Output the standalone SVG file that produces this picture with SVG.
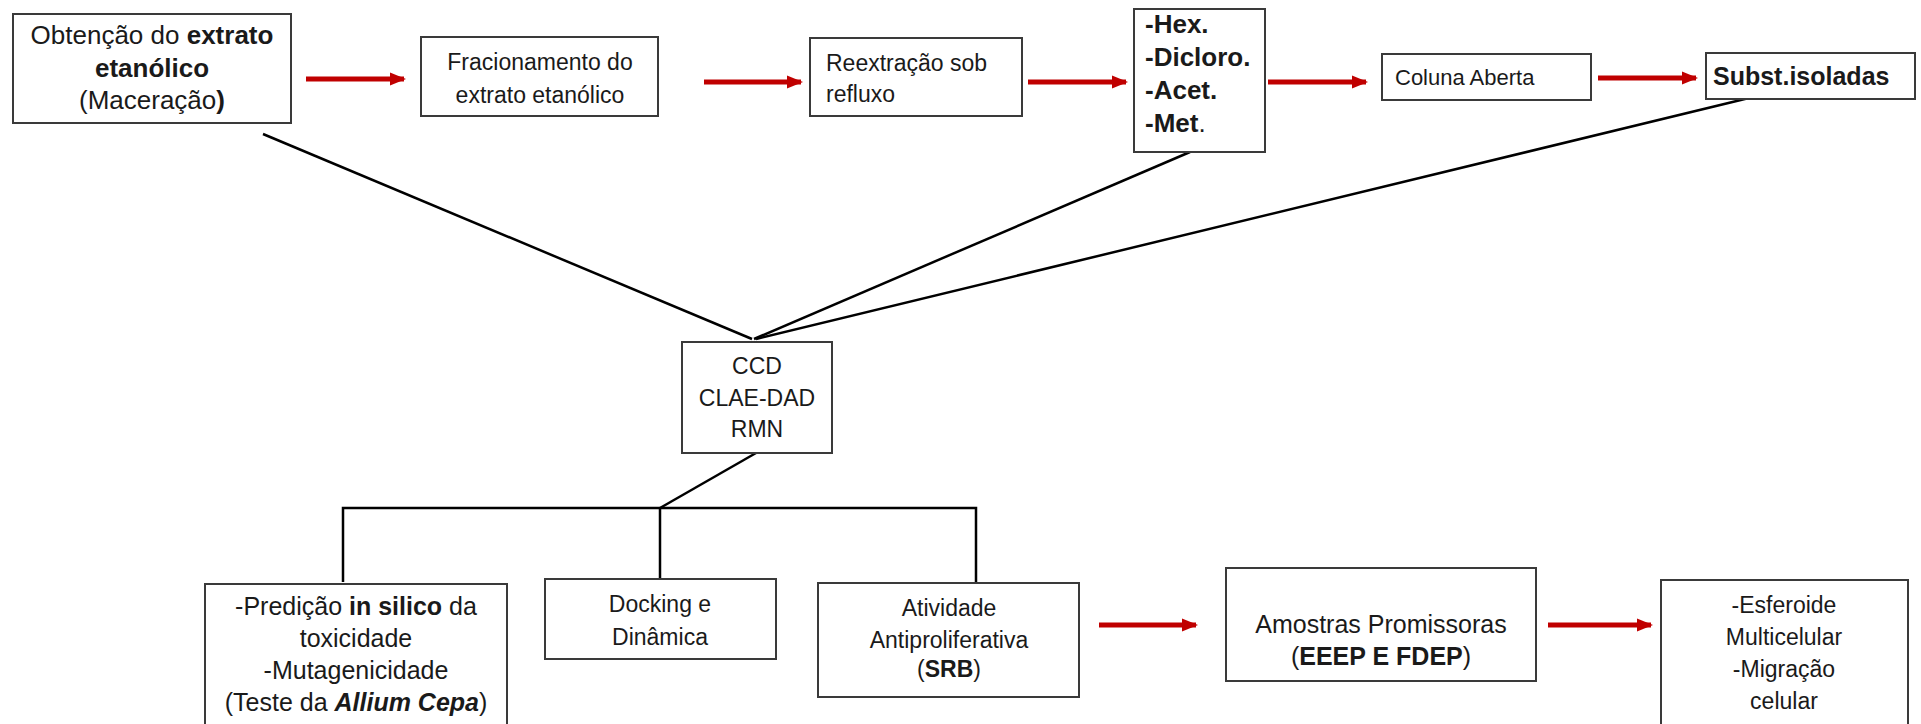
<svg xmlns="http://www.w3.org/2000/svg" width="1921" height="724" viewBox="0 0 1921 724">
<style>
.box{fill:#fff;stroke:#3a3a3a;stroke-width:2}
.t{font-family:"Liberation Sans",Arial,sans-serif;font-size:23px;fill:#1a1a1a}
.s22{font-size:22px}
.s25{font-size:25px}
.s26{font-size:26px}
.c{text-anchor:middle}
.b{font-weight:bold}
.red{stroke:#c00000;stroke-width:5;fill:none}
.blk{stroke:#000;stroke-width:2.5;fill:none}
</style>
<defs>
<marker id="ah" markerUnits="userSpaceOnUse" markerWidth="16" markerHeight="16" refX="14" refY="8" orient="auto">
<path d="M0,1.5 L16,8 L0,14.5 Z" fill="#c00000"/>
</marker>
</defs>
<g id="connectors">
<line class="red" x1="306" y1="79" x2="404" y2="79" marker-end="url(#ah)"/>
<line class="red" x1="704" y1="82" x2="801" y2="82" marker-end="url(#ah)"/>
<line class="red" x1="1028" y1="82" x2="1126" y2="82" marker-end="url(#ah)"/>
<line class="red" x1="1268" y1="82" x2="1366" y2="82" marker-end="url(#ah)"/>
<line class="red" x1="1598" y1="78" x2="1696" y2="78" marker-end="url(#ah)"/>
<line class="red" x1="1099" y1="625" x2="1196" y2="625" marker-end="url(#ah)"/>
<line class="red" x1="1548" y1="625" x2="1651" y2="625" marker-end="url(#ah)"/>
<line class="blk" x1="263" y1="134" x2="752" y2="339"/>
<line class="blk" x1="1190" y1="152" x2="754" y2="339"/>
<line class="blk" x1="1749" y1="98" x2="756" y2="339"/>
<line class="blk" x1="756" y1="453" x2="660" y2="508"/>
<polyline class="blk" points="343,582 343,508 976,508 976,582"/>
<line class="blk" x1="660" y1="508" x2="660" y2="579"/>
</g>
<g id="n1"><rect class="box" x="13" y="14" width="278" height="109"/>
<text class="t s26 c" x="152" y="44">Obtenção do <tspan class="b">extrato</tspan></text>
<text class="t s26 c b" x="152" y="77">etanólico</text>
<text class="t s26 c" x="152" y="109">(Maceração<tspan class="b">)</tspan></text></g>
<g id="n2"><rect class="box" x="421" y="37" width="237" height="79"/>
<text class="t c" x="540" y="70">Fracionamento do</text>
<text class="t c" x="540" y="103">extrato etanólico</text></g>
<g id="n3"><rect class="box" x="810" y="38" width="212" height="78"/>
<text class="t" x="826" y="71">Reextração sob</text>
<text class="t" x="826" y="102">refluxo</text></g>
<g id="n4"><rect class="box" x="1134" y="9" width="131" height="143"/>
<text class="t s26 b" x="1145" y="33">-Hex.</text>
<text class="t s26 b" x="1145" y="66">-Dicloro.</text>
<text class="t s26 b" x="1145" y="99">-Acet.</text>
<text class="t s26" x="1145" y="132"><tspan class="b">-Met</tspan>.</text></g>
<g id="n5"><rect class="box" x="1382" y="54" width="209" height="46"/>
<text class="t s22" x="1395" y="85">Coluna Aberta</text></g>
<g id="n6"><rect class="box" x="1706" y="53" width="209" height="46"/>
<text class="t s25 b" x="1713" y="85">Subst.isoladas</text></g>
<g id="n7"><rect class="box" x="682" y="342" width="150" height="111"/>
<text class="t c" x="757" y="374">CCD</text>
<text class="t c" x="757" y="406">CLAE-DAD</text>
<text class="t c" x="757" y="437">RMN</text></g>
<g id="n8"><rect class="box" x="205" y="584" width="302" height="150"/>
<text class="t s25 c" x="356" y="615">-Predição <tspan class="b">in silico</tspan> da</text>
<text class="t s25 c" x="356" y="647">toxicidade</text>
<text class="t s25 c" x="356" y="679">-Mutagenicidade</text>
<text class="t s25 c" x="356" y="711">(Teste da <tspan class="b" font-style="italic">Allium Cepa</tspan>)</text></g>
<g id="n9"><rect class="box" x="545" y="579" width="231" height="80"/>
<text class="t c" x="660" y="612">Docking e</text>
<text class="t c" x="660" y="645">Dinâmica</text></g>
<g id="n10"><rect class="box" x="818" y="583" width="261" height="114"/>
<text class="t c" x="949" y="616">Atividade</text>
<text class="t c" x="949" y="648">Antiproliferativa</text>
<text class="t c" x="949" y="677">(<tspan class="b">SRB</tspan>)</text></g>
<g id="n11"><rect class="box" x="1226" y="568" width="310" height="113"/>
<text class="t s25 c" x="1381" y="633">Amostras  Promissoras</text>
<text class="t s25 c" x="1381" y="665">(<tspan class="b">EEEP E FDEP</tspan>)</text></g>
<g id="n12"><rect class="box" x="1661" y="580" width="247" height="154"/>
<text class="t c" x="1784" y="613">-Esferoide</text>
<text class="t c" x="1784" y="645">Multicelular</text>
<text class="t c" x="1784" y="677">-Migração</text>
<text class="t c" x="1784" y="709">celular</text></g>
</svg>
